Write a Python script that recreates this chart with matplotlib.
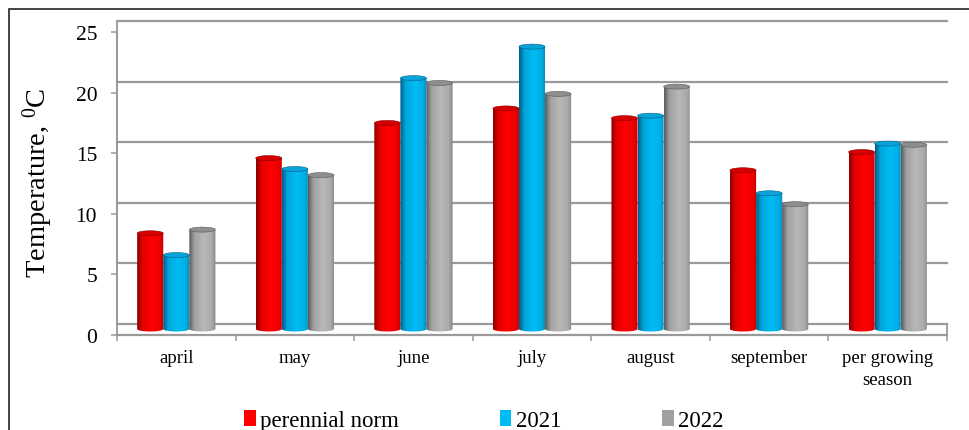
import numpy as np
import matplotlib
matplotlib.use("Agg")
import matplotlib.pyplot as plt
from matplotlib import transforms
from matplotlib.patches import Ellipse, Polygon, Patch, Rectangle
from matplotlib.colors import to_rgb

plt.rcParams['font.family'] = ['Liberation Serif', 'DejaVu Serif']

months = ["april", "may", "june", "july", "august", "september", "per growing\nseason"]
norm = [7.9, 14.1, 17.0, 18.2, 17.4, 13.1, 14.6]
t2021 = [6.1, 13.2, 20.7, 23.3, 17.6, 11.2, 15.3]
t2022 = [8.2, 12.7, 20.3, 19.4, 20.0, 10.3, 15.2]
names = ["perennial norm", "2021", "2022"]
yticks = [0, 5, 10, 15, 20, 25]

# (light, dark, top) colour for each cylinder series
palette = [("#ff0000", "#8a0000", "#d60000"),
           ("#00bcf5", "#005e88", "#0aa3d8"),
           ("#b8b8b8", "#5a5a5a", "#8e8e8e")]

fig = plt.figure(figsize=(9.7, 4.31), dpi=100)
ax = fig.add_axes([117 / 970, 95 / 431, 830 / 970, 303 / 431])
ax.set_xlim(0, 7)
ax.set_ylim(0, 25)
for s in ax.spines.values():
    s.set_visible(False)

# pseudo 3d: back wall sits 11 px above the front edge, bars halfway
back = transforms.offset_copy(ax.transData, fig=fig, x=0, y=11, units='dots')
mid = transforms.offset_copy(ax.transData, fig=fig, x=0, y=6, units='dots')

grid_c = "#9a9a9a"
for k in yticks:
    ax.plot([0, 7], [k, k], transform=back, color=grid_c, lw=1.6, zorder=1, clip_on=False)
ax.plot([0, 7], [0, 0], color=grid_c, lw=1.6, zorder=1, clip_on=False)
ax.plot([0, 0], [0, 25], transform=back, color=grid_c, lw=1.3, zorder=1, clip_on=False)
ax.plot([0, 0], [0, 25], color=grid_c, lw=1.3, zorder=1, clip_on=False)
ppu = ax.transData.transform((0, 1))[1] - ax.transData.transform((0, 0))[1]
ax.plot([7, 7], [0, 11 / ppu], color=grid_c, lw=1.3, zorder=1, clip_on=False)

# shading across a cylinder, 0 = dark edge, 1 = highlight
tt = np.linspace(0, 1, 80)
shade = np.interp(tt, [0, 0.2, 0.55, 0.85, 1.0], [0.0, 0.75, 1.0, 0.85, 0.45])

w = 0.22
e = 2.5 / ppu
theta = np.linspace(np.pi, 2 * np.pi, 40)
x = np.arange(len(months)) + 0.5
for i, vals in enumerate([norm, t2021, t2022]):
    light, dark, top = palette[i]
    lo, hi = np.array(to_rgb(dark)), np.array(to_rgb(light))
    grad = lo + (hi - lo) * shade[:, None]
    for xc, v in zip(x + (i - 1) * w, vals):
        x0, x1 = xc - w / 2, xc + w / 2
        pts = np.column_stack([xc + w / 2 * np.cos(theta), e * np.sin(theta)])
        pts = np.vstack([pts, [[x1, v], [x0, v]]])
        clip = Polygon(pts, closed=True, transform=mid)
        im = ax.imshow(grad[None, :, :], extent=(x0, x1, -e, v), transform=mid,
                       aspect='auto', interpolation='bilinear', zorder=3)
        im.set_clip_path(clip)
        ax.add_patch(Ellipse((xc, v), w, 2 * e, transform=mid, facecolor=top,
                             edgecolor=dark, lw=0.4, zorder=4))

ax.set_xlim(0, 7)
ax.set_ylim(0, 25)

ax.set_yticks(yticks)
ax.tick_params(axis='y', length=4.3, width=1.1, color=grid_c, pad=10, labelsize=15.5)
ax.set_xticks(x)
ax.set_xticklabels(months, linespacing=1.4)
ax.set_xticks(np.arange(8), minor=True)
ax.tick_params(axis='x', which='major', length=0, pad=10, labelsize=13.5)
ax.tick_params(axis='x', which='minor', length=4.3, width=1.1, color=grid_c)

fig.text(38 / 970, 1 - 183 / 431, r"Temperature, $\mathregular{^0}$C",
         rotation=90, ha='center', va='center', fontsize=20.5)

handles = [Patch(facecolor=p[0]) for p in palette]
handles[2] = Patch(facecolor="#a0a0a0")
fig.legend(handles, names, loc='center', bbox_to_anchor=(0.499, 0.022), ncol=3,
           frameon=False, fontsize=16.5, handlelength=0.5, handleheight=0.7,
           handletextpad=0.2, columnspacing=4.4, borderpad=0)

fig.add_artist(Rectangle((9 / 970, -0.1), 1.2, 421 / 431 + 0.1, transform=fig.transFigure,
                         fill=False, edgecolor="#222222", lw=1.2))

fig.savefig("out.png", dpi=100)
